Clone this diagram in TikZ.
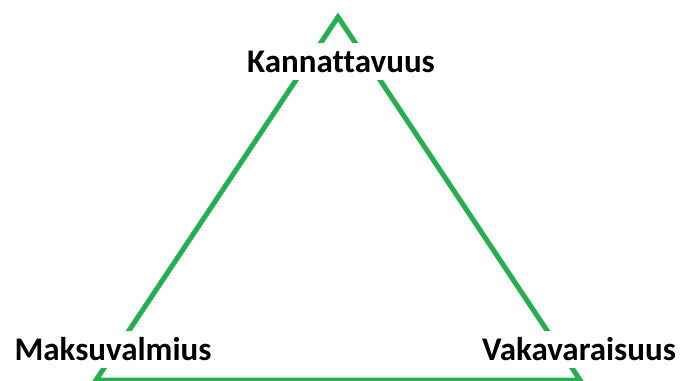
\documentclass[tikz,border=0pt]{standalone}
\usepackage{fontspec}
\setmainfont[Ligatures=NoCommon]{Carlito}
\definecolor{paintgreen}{RGB}{34,177,76}
\begin{document}
\begin{tikzpicture}[x=1pt,y=-1pt,
  corner/.style={fill=white, inner xsep=2pt, inner ysep=2pt,
    text height=27pt, text depth=6pt, anchor=base,
    font=\fontsize{33}{33}\selectfont\bfseries}]
  \useasboundingbox (0,0) rectangle (684,380);
  \clip (0,0) rectangle (684,380);
  % triangle corners
  \coordinate (top) at (338,17);
  \coordinate (bl) at (96,380);
  \coordinate (br) at (580,380);
  \draw[paintgreen, line width=5pt, line join=miter] (top) -- (bl) -- (br) -- cycle;
  % labels sit on top of the edges
  \node[corner] (k) at (341,72) {Kannattavuus};
  \node[corner] (m) at (113,360) {Maksuvalmius};
  \node[corner] (v) at (579,360) {Vakavaraisuus};
\end{tikzpicture}
\end{document}
